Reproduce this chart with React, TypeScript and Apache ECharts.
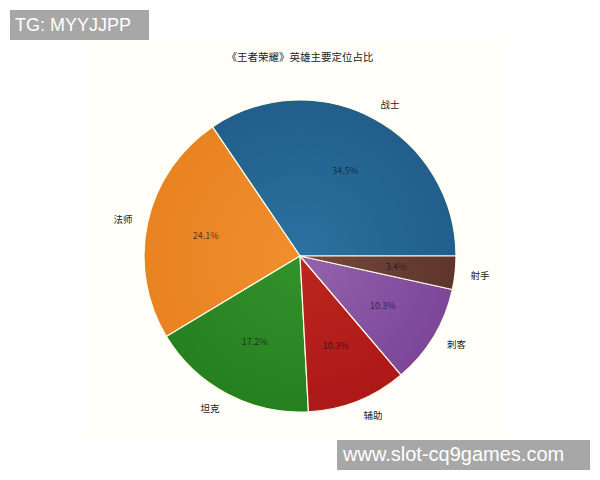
import React, { useEffect, useRef } from "react";
import * as echarts from "echarts";

const titleText = "《王者荣耀》英雄主要定位占比";
const categories = ["战士", "法师", "坦克", "辅助", "刺客", "射手"];
const counts = [10, 7, 5, 3, 3, 1];
const innerColors = ["#2b72a0", "#f08e2e", "#33912b", "#bd261f", "#9463ad", "#77493d"];
const outerColors = ["#215e8b", "#e98322", "#258120", "#ad1818", "#7d4698", "#5e352c"];

const CX = 300;
const CY = 256;
const R = 156;

export default function App() {
  const ref = useRef<HTMLDivElement>(null);
  useEffect(() => {
    if (!ref.current) return;
    const chart = echarts.init(ref.current, undefined, { renderer: "svg" });
    const total = counts.reduce((a, b) => a + b, 0);
    const colored = categories.map((name, i) => ({
      name,
      value: counts[i],
      itemStyle: {
        color: {
          type: "radial",
          x: CX,
          y: CY,
          r: R,
          global: true,
          colorStops: [
            { offset: 0, color: innerColors[i] },
            { offset: 1, color: outerColors[i] },
          ],
        },
      },
    }));
    const plain = categories.map((name, i) => ({ name, value: counts[i] }));
    chart.setOption({
      animation: false,
      backgroundColor: "#ffffff",
      title: {
        text: titleText,
        left: "center",
        top: 46,
        textStyle: {
          fontSize: 10.5,
          fontWeight: "normal",
          color: "#222",
          fontFamily: "Noto Sans CJK SC",
        },
      },
      graphic: [
        {
          type: "rect",
          z: -10,
          shape: { x: 86, y: 41, width: 420, height: 398 },
          style: { fill: "#fffef8" },
        },
        {
          type: "rect",
          shape: { x: 10, y: 10, width: 139, height: 30 },
          style: { fill: "#a7a7a7" },
        },
        {
          type: "text",
          x: 15,
          y: 25,
          style: {
            text: "TG: MYYJJPP",
            fill: "#ffffff",
            font: "18px 'Liberation Sans', Arial, sans-serif",
            verticalAlign: "middle",
            align: "left",
          },
        },
        {
          type: "rect",
          shape: { x: 337, y: 440, width: 253, height: 30 },
          style: { fill: "#a7a7a7" },
        },
        {
          type: "text",
          x: 343,
          y: 454,
          style: {
            text: "www.slot-cq9games.com",
            fill: "#ffffff",
            font: "20px 'Liberation Sans', Arial, sans-serif",
            verticalAlign: "middle",
            align: "left",
          },
        },
      ],
      series: [
        {
          type: "pie",
          center: [CX, CY],
          radius: R,
          startAngle: 0,
          clockwise: false,
          avoidLabelOverlap: false,
          silent: true,
          itemStyle: { borderColor: "#fffde6", borderWidth: 1.2 },
          label: {
            show: true,
            position: "outside",
            formatter: "{b}",
            fontSize: 9.5,
            color: "#222",
            fontFamily: "Noto Sans CJK SC",
            distanceToLabelLine: 0,
          },
          labelLine: { show: false, length: R * 0.1, length2: 0 },
          data: colored,
        },
        {
          type: "pie",
          center: [CX, CY],
          radius: [R * 0.2, R],
          startAngle: 0,
          clockwise: false,
          avoidLabelOverlap: false,
          silent: true,
          itemStyle: { color: "rgba(0,0,0,0)", borderWidth: 0 },
          label: {
            show: true,
            position: "inside",
            formatter: (p: any) => ((p.value / total) * 100).toFixed(1) + "%",
            fontSize: 9,
            color: "rgba(15,15,25,0.72)",
            fontFamily: "Noto Sans CJK SC",
          },
          labelLine: { show: false },
          data: plain,
        },
      ],
    });
    return () => chart.dispose();
  }, []);
  return (
    <div
      ref={ref}
      style={{ position: "fixed", left: 0, top: 0, width: 600, height: 480 }}
    />
  );
}
